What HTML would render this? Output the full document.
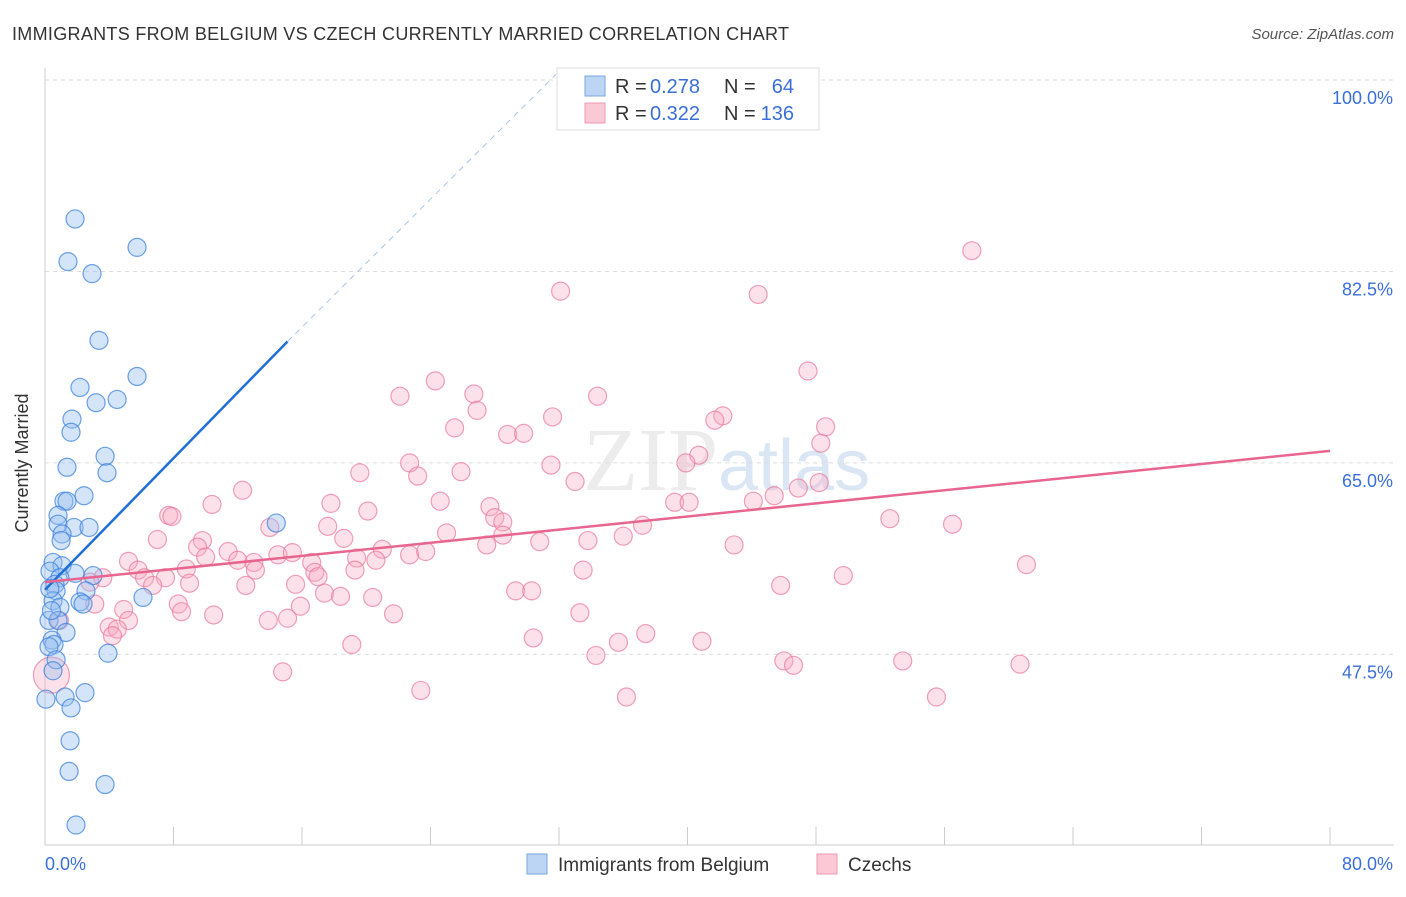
<!DOCTYPE html>
<html><head><meta charset="utf-8"><style>
body{margin:0;background:#fff;font-family:"Liberation Sans",sans-serif}
</style></head><body>
<svg width="1406" height="892" xmlns="http://www.w3.org/2000/svg" font-family="Liberation Sans, sans-serif">
<text x="12" y="40" font-size="18" fill="#333" textLength="777" lengthAdjust="spacing">IMMIGRANTS FROM BELGIUM VS CZECH CURRENTLY MARRIED CORRELATION CHART</text>
<text x="1394" y="39" font-size="15" fill="#555" font-style="italic" text-anchor="end">Source: ZipAtlas.com</text>
<text x="718" y="490" font-size="90" fill="#ececec" text-anchor="end" font-family="Liberation Serif, serif">ZIP</text>
<text x="718" y="490" font-size="72" fill="#dae6f4">atlas</text>
<g id="grid"></g>
<g id="axes"></g>
<g id="pink"></g>
<g id="blue"></g>
<g id="lines"></g>
<text x="20" y="455" font-size="18" fill="#333" transform="rotate(-90 28 455)" text-anchor="middle">Currently Married</text>
<g>
<rect x="557" y="68" width="262" height="62" fill="#fff" stroke="#ddd"/>
<rect x="585" y="76" width="20" height="20" fill="#bcd5f5" stroke="#7aa7e0"/>
<rect x="585" y="103" width="20" height="20" fill="#fbc8d6" stroke="#ee9ab4"/>
<text x="615" y="93" font-size="20" fill="#333">R =</text>
<text x="650" y="93" font-size="20" fill="#3a6fd8">0.278</text>
<text x="724" y="93" font-size="20" fill="#333">N =</text>
<text x="794" y="93" font-size="20" fill="#3a6fd8" text-anchor="end">64</text>
<text x="615" y="120" font-size="20" fill="#333">R =</text>
<text x="650" y="120" font-size="20" fill="#3a6fd8">0.322</text>
<text x="724" y="120" font-size="20" fill="#333">N =</text>
<text x="794" y="120" font-size="20" fill="#3a6fd8" text-anchor="end">136</text>
</g>
<g>
<rect x="527" y="854" width="20" height="20" fill="#bcd5f5" stroke="#7aa7e0"/>
<text x="558" y="871" font-size="19" fill="#333">Immigrants from Belgium</text>
<rect x="817" y="854" width="20" height="20" fill="#fbc8d6" stroke="#ee9ab4"/>
<text x="848" y="871" font-size="19" fill="#333">Czechs</text>
</g>
</svg>
<script>
const yTicks=[100,82.5,65,47.5];
const yTickLabels=["100.0%","82.5%","65.0%","47.5%"];
const xLabels=["0.0%","80.0%"];
const blueX=[1.87,1.43,2.93,5.73,3.36,5.73,2.18,3.18,4.49,1.68,1.62,1.37,3.74,3.86,1.18,1.37,2.43,0.81,0.81,1.81,2.74,1.06,1.0,14.4,0.5,1.06,0.31,1.87,2.99,0.93,0.62,0.69,2.55,6.1,2.18,2.37,0.5,0.93,0.25,0.81,1.31,0.44,0.56,0.25,3.92,0.69,0.5,0.06,1.25,2.49,1.62,1.56,1.5,3.74,1.93,0.3,0.4];
const blueY=[87.3,83.4,82.3,84.7,76.2,72.9,71.9,70.5,70.8,69.0,67.8,64.6,65.6,64.1,61.5,61.5,62.0,60.2,59.4,59.1,59.1,58.5,57.9,59.5,55.9,55.6,55.1,54.9,54.7,54.5,53.9,53.3,53.3,52.7,52.3,52.1,52.4,51.8,50.6,50.6,49.5,48.8,48.4,48.2,47.6,47.0,46.0,43.4,43.6,44.0,42.6,39.6,36.8,35.6,31.9,53.5,51.5];
const pinkX=[57.7,32.1,44.4,47.5,24.3,26.7,22.1,34.4,26.9,31.6,42.2,41.7,25.5,28.8,29.8,48.6,48.3,40.7,39.9,22.7,31.5,19.6,25.9,23.2,33.0,12.3,24.6,17.8,27.7,10.4,39.2,40.1,44.1,45.4,46.9,48.2,20.1,7.7,7.9,28.0,28.5,52.6,56.5,37.2,17.6,14.0,25.0,36.0,28.5,33.8,7.0,18.6,27.5,30.8,42.9,9.8,9.5,11.4,14.5,15.4,21.0,22.7,23.7,12.0,13.0,10.0,20.6,19.4,16.6,5.2,8.8,13.1,16.8,5.8,7.5,6.2,61.1,49.7,33.5,19.3,9.0,15.6,12.5,6.7,17.0,3.6,2.8,17.4,18.4,20.4,29.3,30.3,45.8,8.3,8.5,15.9,3.1,4.9,10.5,21.7,33.3,5.2,0.9,13.9,15.1,4.0,4.5,4.2,37.4,40.9,35.7,30.4,19.1,34.3,46.0,46.6,53.4,60.7,14.8,23.4,36.2,55.5,0.4];
const pinkY=[84.4,80.7,80.4,73.4,72.5,71.3,71.1,71.1,69.8,69.2,69.3,68.9,68.2,67.6,67.7,68.3,66.8,65.7,65.0,65.0,64.8,64.1,64.2,63.8,63.3,62.5,61.5,61.3,61.0,61.2,61.4,61.4,61.5,62.0,62.7,63.2,60.6,60.2,60.1,60.0,59.6,59.9,59.4,59.3,59.2,59.1,58.6,58.3,58.4,57.9,58.0,58.1,57.5,57.8,57.5,57.9,57.3,56.9,56.6,56.8,57.1,56.6,56.9,56.1,55.9,56.4,56.1,56.3,55.9,56.0,55.3,55.2,55.0,55.2,54.5,54.5,55.7,54.7,55.2,55.2,54.0,53.9,53.8,53.8,54.6,54.5,54.1,53.1,52.8,52.7,53.3,53.3,53.8,52.1,51.4,51.9,52.1,51.6,51.1,51.2,51.3,50.6,50.6,50.6,50.8,50.0,49.8,49.2,49.4,48.7,48.6,49.0,48.4,47.4,46.9,46.5,46.9,46.6,45.9,44.2,43.6,43.6,45.6];
const blueTrend=[[0,53.4],[15.1,76.1]];
const blueDash=[[15.1,76.1],[31.8,100.5]];
const pinkTrend=[[0,54.1],[80,66.1]];
const X=v=>45+v/80*1285;
const Y=v=>80+(100-v)*10.94;
const NS="http://www.w3.org/2000/svg";
function mk(t,a,p){const e=document.createElementNS(NS,t);for(const k in a)e.setAttribute(k,a[k]);document.getElementById(p).appendChild(e);return e;}
yTicks.forEach((t,i)=>{
 const g=mk('line',{x1:45,x2:1394,y1:Y(t),y2:Y(t),stroke:'#ddd','stroke-dasharray':'4,4'},'grid');
 
 
 const l=mk('text',{x:1393,y:Y(t)+24,'font-size':18,fill:'#3a6fd8','text-anchor':'end'},'axes');
 l.textContent=yTickLabels[i];
 
 
});
const ax=mk('line',{x1:45,x2:45,y1:68,y2:845,stroke:'#ccc'},'axes');


const bx=mk('line',{x1:45,x2:1394,y1:845,y2:845,stroke:'#ccc'},'axes');


for(let i=1;i<=10;i++){const t=mk('line',{x1:X(i*8),x2:X(i*8),y1:827,y2:845,stroke:'#ccc'},'axes');
 
 }
const xl0=mk('text',{x:45,y:870,'font-size':18,fill:'#3a6fd8'},'axes');xl0.textContent=xLabels[0];


const xl1=mk('text',{x:1393,y:870,'font-size':18,fill:'#3a6fd8','text-anchor':'end'},'axes');xl1.textContent=xLabels[1];


pinkX.forEach((v,i)=>{const c=mk('circle',{cx:X(v),cy:Y(pinkY[i]),r:i==pinkX.length-1?18:9,fill:'rgba(248,170,195,0.35)',stroke:'rgba(232,120,155,0.7)','stroke-width':1.2},'pink');
 
 });
blueX.forEach((v,i)=>{const c=mk('circle',{cx:X(v),cy:Y(blueY[i]),r:9,fill:'rgba(150,190,240,0.4)',stroke:'rgba(60,130,220,0.75)','stroke-width':1.2},'blue');
 
 });
const b1=mk('line',{x1:X(blueTrend[0][0]),y1:Y(blueTrend[0][1]),x2:X(blueTrend[1][0]),y2:Y(blueTrend[1][1]),stroke:'#1f6fd6','stroke-width':2.5},'lines');


const b2=mk('line',{x1:X(blueDash[0][0]),y1:Y(blueDash[0][1]),x2:X(blueDash[1][0]),y2:Y(blueDash[1][1]),stroke:'#a9c4e8','stroke-width':1,'stroke-dasharray':'6,5'},'lines');


const p1=mk('line',{x1:X(pinkTrend[0][0]),y1:Y(pinkTrend[0][1]),x2:X(pinkTrend[1][0]),y2:Y(pinkTrend[1][1]),stroke:'#e8658f','stroke-width':2.5},'lines');


</script>
</body></html>
